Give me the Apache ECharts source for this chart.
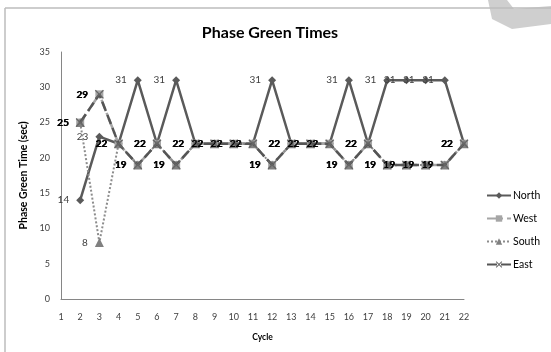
<!DOCTYPE html>
<html>
<head>
<meta charset="utf-8">
<script src="https://cdn.jsdelivr.net/npm/echarts@6/dist/echarts.min.js"></script>
<style>
  html, body { margin: 0; padding: 0; background: #fff; }
  #chart { width: 551px; height: 352px; }
</style>
</head>
<body>
<div id="chart"></div>
<script>
// Cycles on the x axis
const cycles = ['1','2','3','4','5','6','7','8','9','10','11','12','13','14','15','16','17','18','19','20','21','22'];

// Green time (sec) per phase, cycle 1 has no value
const north = [null,14,23,22,31,22,31,22,22,22,22,31,22,22,22,31,22,31,31,31,31,22];
const west  = [null,25,29,22,19,22,19,22,22,22,22,19,22,22,22,19,22,19,19,19,19,22];
const south = [null,25, 8,22,19,22,19,22,22,22,22,19,22,22,22,19,22,19,19,19,19,22];
const east  = [null,25,29,22,19,22,19,22,22,22,22,19,22,22,22,19,22,19,19,19,19,22];

const FONT = 'Lato, "Open Sans", "Liberation Sans", sans-serif';
const crossPath = 'path://M0,1L1,0L5,4L9,0L10,1L6,5L10,9L9,10L5,6L1,10L0,9L4,5Z';

function makeSeries(name, data, opts) {
  return {
    name: name,
    type: 'line',
    data: data,
    symbol: opts.symbol,
    symbolSize: opts.symbolSize,
    showAllSymbol: true,
    connectNulls: false,
    z: opts.z,
    lineStyle: { color: opts.lineColor, width: opts.width, type: opts.dash },
    itemStyle: { color: opts.markColor, borderColor: opts.markBorder || opts.markColor, borderWidth: opts.borderWidth || 0 },
    label: {
      show: true,
      position: 'left',
      distance: 7,
      fontFamily: FONT,
      fontSize: 10,
      fontWeight: opts.labelBold ? 'bold' : 'normal',
      color: opts.labelColor
    },
    emphasis: { disabled: true }
  };
}

const chart = echarts.init(document.getElementById('chart'), null, { renderer: 'canvas' });
chart.setOption({
  animation: false,
  backgroundColor: '#ffffff',
  title: {
    text: 'Phase Green Times',
    left: 265,
    top: 20,
    textAlign: 'center',
    textStyle: { fontFamily: FONT, fontSize: 16, fontWeight: 'bold', color: '#000' }
  },
  graphic: [
    // outer frame
    { type: 'line', shape: { x1: 5, y1: 8, x2: 551, y2: 8 }, style: { stroke: '#bdbdbd', lineWidth: 1.5 }, silent: true },
    { type: 'line', shape: { x1: 5, y1: 8, x2: 5, y2: 352 }, style: { stroke: '#bdbdbd', lineWidth: 1.5 }, silent: true },
    // corner emblem
    { type: 'polygon', shape: { points: [[488,0],[507,0],[514,9],[551,6],[551,24],[512,29],[492,19]] },
      style: { fill: '#cfcfcf' }, silent: true, z: -1 }
  ],
  legend: {
    orient: 'vertical',
    left: 481,
    top: 185,
    itemWidth: 24,
    itemHeight: 8,
    itemGap: 12,
    textStyle: { fontFamily: FONT, fontSize: 10.5, color: '#000', padding: [0,0,0,-3] },
    data: ['North','West','South','East']
  },
  grid: { left: 61, right: 87, top: 52, bottom: 53, containLabel: false },
  xAxis: {
    type: 'category',
    data: cycles,
    boundaryGap: false,
    name: 'Cycle',
    nameLocation: 'middle',
    nameGap: 34,
    nameTextStyle: { fontFamily: FONT, fontSize: 8.5, fontWeight: 'bold', color: '#000' },
    axisLine: { lineStyle: { color: '#868686', width: 1 } },
    axisTick: { show: false },
    axisLabel: { fontFamily: FONT, fontSize: 9, color: '#404040', margin: 14, interval: 0 },
    splitLine: { show: false }
  },
  yAxis: {
    type: 'value',
    min: 0,
    max: 35,
    interval: 5,
    name: 'Phase Green Time (sec)',
    nameLocation: 'middle',
    nameGap: 30,
    nameTextStyle: { fontFamily: FONT, fontSize: 10.5, fontWeight: 'bold', color: '#000' },
    axisLine: { show: true, lineStyle: { color: '#868686', width: 1 } },
    axisTick: { show: false },
    axisLabel: { fontFamily: FONT, fontSize: 9, color: '#404040', margin: 11 },
    splitLine: { show: false }
  },
  series: [
    makeSeries('North', north, { symbol: 'diamond', symbolSize: 8, lineColor: '#5a5a5a', width: 2.5, dash: 'solid',
      markColor: '#5a5a5a', labelColor: '#404040', labelBold: false, z: 2 }),
    makeSeries('West', west, { symbol: 'rect', symbolSize: 8, lineColor: '#a6a6a6', width: 2.5, dash: [10, 4, 2, 4],
      markColor: '#a6a6a6', labelColor: '#000', labelBold: true, z: 3 }),
    makeSeries('South', south, { symbol: 'triangle', symbolSize: 9, lineColor: '#8c8c8c', width: 2, dash: [2, 2],
      markColor: '#808080', labelColor: '#404040', labelBold: false, z: 4 }),
    makeSeries('East', east, { symbol: crossPath, symbolSize: 9, lineColor: '#555555', width: 2.5, dash: [10, 4],
      markColor: '#666666', labelColor: '#000', labelBold: true, z: 5 })
  ]
});
</script>
</body>
</html>
